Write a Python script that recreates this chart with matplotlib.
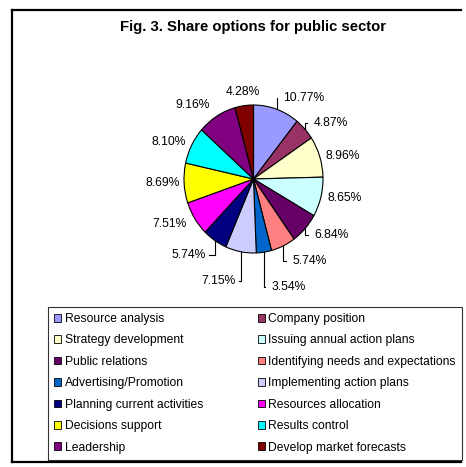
import matplotlib
matplotlib.use("Agg")
import matplotlib.pyplot as plt
import numpy as np
from matplotlib.lines import Line2D
from matplotlib.patches import Patch

plt.rcParams["font.family"] = ["Liberation Sans", "DejaVu Sans"]

categories = [
    "Resource analysis", "Company position", "Strategy development",
    "Issuing annual action plans", "Public relations",
    "Identifying needs and expectations", "Advertising/Promotion",
    "Implementing action plans", "Planning current activities",
    "Resources allocation", "Decisions support", "Results control",
    "Leadership", "Develop market forecasts",
]
shares = [10.77, 4.87, 8.96, 8.65, 6.84, 5.74, 3.54, 7.15, 5.74, 7.51, 8.69, 8.10, 9.16, 4.28]
colors = ["#9999FF", "#993366", "#FFFFCC", "#CCFFFF", "#660066", "#FF8080", "#0066CC",
          "#CCCCFF", "#000080", "#FF00FF", "#FFFF00", "#00FFFF", "#800080", "#800000"]

# label layout (distance from centre in radii, leader line on/off)
label_r = [1.16, 1.12, 1.05, 1.06, 1.13, 1.22, 1.47, 1.40, 1.23, 1.13, 1.06, 1.09, 1.18, 1.19]
leader = [True, True, False, False, True, True, True, True, True, False, False, False, False, False]

W, H = 466, 467
fig = plt.figure(figsize=(W / 100, H / 100), dpi=100)

# outer frame (right side is cut off)
lw = 1.6
fig.add_artist(Line2D([12 / W, 0.99], [1 - 10 / H] * 2, color="black", lw=lw))
fig.add_artist(Line2D([12 / W] * 2, [1 - 10 / H, 1 - 462 / H], color="black", lw=lw))
fig.add_artist(Line2D([12 / W, 0.99], [1 - 462 / H] * 2, color="black", lw=lw))

fig.text(252.5 / W, 1 - 27 / H, "Fig. 3. Share options for public sector",
         ha="center", va="center", fontsize=10.7, fontweight="bold")

cx, cy, rx, ry, lim = 253.5, 179, 69.5, 74, 1.6
ax = fig.add_axes([(cx - lim * rx) / W, 1 - (cy + lim * ry) / H, 2 * lim * rx / W, 2 * lim * ry / H])
wedges, _ = ax.pie(shares, colors=colors, startangle=90, counterclock=False,
                   wedgeprops=dict(edgecolor="black", linewidth=0.8))
ax.set_aspect("auto")
ax.set_xlim(-lim, lim)
ax.set_ylim(-lim, lim)
ax.axis("off")

for w, v, r, ld in zip(wedges, shares, label_r, leader):
    a = np.deg2rad((w.theta1 + w.theta2) / 2)
    ex, ey = np.cos(a), np.sin(a)
    lx, ly = r * np.cos(a), r * np.sin(a)
    if abs(ex) < 0.2 and ey > 0:
        ha = "center"
    elif ex > 0:
        ha = "left"
    else:
        ha = "right"
    if ld:
        end = lx - 0.05 if ex > 0 else lx + 0.05
        ax.plot([ex, ex, end], [ey, ly, ly], color="black", lw=0.8)
    ax.text(lx + (0.04 if ha == "left" else 0), ly, f"{v:.2f}%", ha=ha, va="center", fontsize=8.7)

handles = [Patch(facecolor=c, edgecolor="black", linewidth=0.6) for c in colors]
order = list(range(0, 14, 2)) + list(range(1, 14, 2))
leg = fig.legend([handles[i] for i in order], [categories[i] for i in order],
                 ncol=2, loc="upper left", mode="expand",
                 bbox_to_anchor=(48 / W, 1 - 460 / H, (462 - 48) / W, (460 - 307) / H),
                 fontsize=8.7, frameon=True, fancybox=False, borderpad=0.5,
                 labelspacing=0.78, handlelength=0.6, handleheight=0.6,
                 handletextpad=0.3, borderaxespad=0)
leg.get_frame().set_edgecolor("black")
leg.get_frame().set_linewidth(0.8)

fig.savefig("out.png", dpi=100)
